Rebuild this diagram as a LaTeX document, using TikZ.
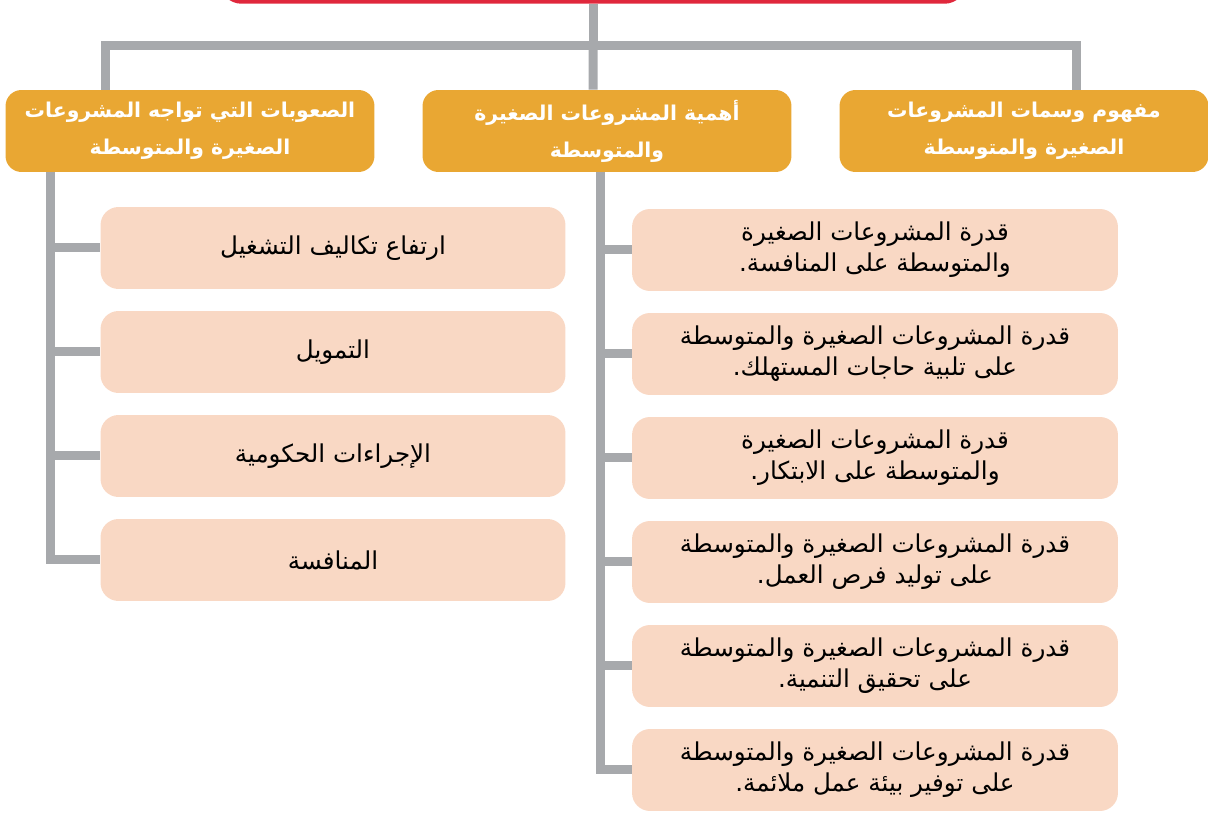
\documentclass[tikz,border=0pt]{standalone}
\usepackage{fontspec}
\newfontfamily\arabicfont[Script=Arabic]{DejaVu Sans}
\TeXXeTstate=1
\usetikzlibrary{positioning}
\usepackage{xcolor}
\definecolor{headcol}{HTML}{E9A733}
\definecolor{boxcol}{HTML}{F9D8C4}
\definecolor{linecol}{HTML}{A7A9AC}
\definecolor{rootred}{HTML}{E0283C}

\begin{document}
\begin{tikzpicture}[x=0.02cm, y=-0.02cm,
    head/.style={rectangle, rounded corners=0.32cm, fill=headcol, text=white, align=center,
      minimum width=7.38cm, minimum height=1.64cm, inner sep=0pt,
      font=\arabicfont\bfseries\fontsize{11.6}{21}\selectfont},
    item/.style={rectangle, rounded corners=0.36cm, fill=boxcol, text=black, align=center,
      minimum height=1.64cm, inner sep=0pt,
      font=\arabicfont\fontsize{14}{17.5}\selectfont},
    link/.style={draw=linecol, line width=0.18cm}]
    \useasboundingbox (0,0) rectangle (1208,813);
    % top box, cut by the page edge
    \node[draw=rootred, line width=0.07cm, rounded corners=0.4cm, minimum width=14.86cm, minimum height=1.6cm] (root) at (593,-38) {};
    \coordinate (fork) at (593,46);

    % three headers
    \node[head] (hard) at (190,131) {\beginR الصعوبات التي تواجه المشروعات\endR\\\beginR الصغيرة والمتوسطة\endR};
    \node[head] (import) at (607,131) {\beginR أهمية المشروعات الصغيرة\endR\\\beginR والمتوسطة\endR};
    \node[head] (concept) at (1024,131) {\beginR مفهوم وسمات المشروعات\endR\\\beginR الصغيرة والمتوسطة\endR};

    % hardships
    \node[item, minimum width=9.3cm] (hard1) at (333,248) {\beginR ارتفاع تكاليف التشغيل\endR};
    \node[item, minimum width=9.3cm] (hard2) at (333,352) {\beginR التمويل\endR};
    \node[item, minimum width=9.3cm] (hard3) at (333,456) {\beginR الإجراءات الحكومية\endR};
    \node[item, minimum width=9.3cm] (hard4) at (333,560) {\beginR المنافسة\endR};

    % importance
    \node[item, minimum width=9.72cm] (imp1) at (875,250) {\beginR قدرة المشروعات الصغيرة\endR\\\beginR والمتوسطة على المنافسة.\endR};
    \node[item, minimum width=9.72cm] (imp2) at (875,354) {\beginR قدرة المشروعات الصغيرة والمتوسطة\endR\\\beginR على تلبية حاجات المستهلك.\endR};
    \node[item, minimum width=9.72cm] (imp3) at (875,458) {\beginR قدرة المشروعات الصغيرة\endR\\\beginR والمتوسطة على الابتكار.\endR};
    \node[item, minimum width=9.72cm] (imp4) at (875,562) {\beginR قدرة المشروعات الصغيرة والمتوسطة\endR\\\beginR على توليد فرص العمل.\endR};
    \node[item, minimum width=9.72cm] (imp5) at (875,666) {\beginR قدرة المشروعات الصغيرة والمتوسطة\endR\\\beginR على تحقيق التنمية.\endR};
    \node[item, minimum width=9.72cm] (imp6) at (875,770) {\beginR قدرة المشروعات الصغيرة والمتوسطة\endR\\\beginR على توفير بيئة عمل ملائمة.\endR};

    \draw[link] (root) -- (fork);
    \draw[link] ([xshift=-1.7cm]hard.north) |- (fork) -| ([xshift=1.06cm]concept.north);
    \draw[link] (fork) -- ([xshift=-0.28cm]import.north);

    \draw[link] ([xshift=-2.8cm]hard.south) |- (hard1.west);
    \draw[link] ([xshift=-2.8cm]hard.south) |- (hard2.west);
    \draw[link] ([xshift=-2.8cm]hard.south) |- (hard3.west);
    \draw[link] ([xshift=-2.8cm]hard.south) |- (hard4.west);

    \draw[link] ([xshift=-0.14cm]import.south) |- (imp1.west);
    \draw[link] ([xshift=-0.14cm]import.south) |- (imp2.west);
    \draw[link] ([xshift=-0.14cm]import.south) |- (imp3.west);
    \draw[link] ([xshift=-0.14cm]import.south) |- (imp4.west);
    \draw[link] ([xshift=-0.14cm]import.south) |- (imp5.west);
    \draw[link] ([xshift=-0.14cm]import.south) |- (imp6.west);
\end{tikzpicture}
\end{document}
